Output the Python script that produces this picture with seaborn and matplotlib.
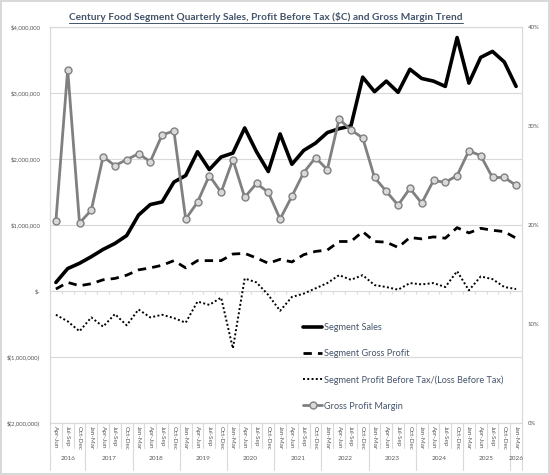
import numpy as np
import pandas as pd
import seaborn as sns
import matplotlib
matplotlib.use('Agg')
import matplotlib.pyplot as plt
from matplotlib.ticker import FuncFormatter, MultipleLocator, PercentFormatter
from matplotlib.lines import Line2D

# quarter / year labels
quarters = ['Apr-Jun', 'Jul-Sep', 'Oct-Dec'] + ['Jan-Mar', 'Apr-Jun', 'Jul-Sep', 'Oct-Dec'] * 9 + ['Jan-Mar']
years = ['2016', '2017', '2018', '2019', '2020', '2021', '2022', '2023', '2024', '2025', '2026']
year_counts = [3, 4, 4, 4, 4, 4, 4, 4, 4, 4, 1]

# values in $ millions
sales_m = [0.13, 0.34, 0.42, 0.52, 0.63, 0.72, 0.84, 1.15, 1.31, 1.35,
           1.65, 1.75, 2.11, 1.84, 2.03, 2.09, 2.47, 2.11, 1.81, 2.38,
           1.92, 2.13, 2.24, 2.40, 2.46, 2.50, 3.24, 3.02, 3.18, 3.01,
           3.36, 3.22, 3.18, 3.10, 3.84, 3.15, 3.54, 3.63, 3.47, 3.10]
gross_profit_m = [0.03, 0.13, 0.08, 0.11, 0.17, 0.19, 0.24, 0.32, 0.35, 0.39,
                  0.46, 0.35, 0.46, 0.46, 0.46, 0.56, 0.57, 0.50, 0.42, 0.48,
                  0.44, 0.55, 0.60, 0.62, 0.75, 0.75, 0.90, 0.75, 0.74, 0.66,
                  0.81, 0.79, 0.82, 0.80, 0.96, 0.88, 0.95, 0.92, 0.90, 0.80]
pbt_m = [-0.36, -0.46, -0.61, -0.40, -0.54, -0.35, -0.52, -0.28, -0.40, -0.36,
         -0.41, -0.48, -0.16, -0.21, -0.10, -0.87, 0.19, 0.13, -0.06, -0.30,
         -0.09, -0.04, 0.04, 0.12, 0.24, 0.17, 0.24, 0.09, 0.06, 0.02,
         0.12, 0.10, 0.12, 0.06, 0.30, 0.01, 0.22, 0.18, 0.06, 0.03]
# gross profit margin, %
margin_pct = [20.4, 35.7, 20.2, 21.5, 26.9, 26.0, 26.6, 27.2, 26.4, 29.1,
              29.5, 20.6, 22.3, 25.0, 23.3, 26.6, 22.8, 24.2, 23.3, 20.6,
              22.9, 25.3, 26.8, 25.6, 30.7, 29.6, 28.8, 24.8, 23.4, 22.0,
              23.7, 22.2, 24.5, 24.3, 25.0, 27.5, 27.0, 24.8, 24.8, 24.0]

df = pd.DataFrame({'pos': np.arange(len(quarters)),
                   'quarter': quarters,
                   'sales': np.array(sales_m) * 1e6,
                   'gross_profit': np.array(gross_profit_m) * 1e6,
                   'pbt': np.array(pbt_m) * 1e6,
                   'margin': np.array(margin_pct) / 100})

sns.set_style('white')
plt.rcParams['font.family'] = ['Lato', 'DejaVu Sans']

label_col = '#595959'
grid_col = '#D9D9D9'
text_col = '#44546A'

fig = plt.figure(figsize=(5.5, 4.75), dpi=100)
fig.patch.set_edgecolor(grid_col)
fig.patch.set_linewidth(1.5)
ax = fig.add_axes([50/550, 1 - 423/475, 472/550, 396/475])
ax2 = ax.twinx()

sns.lineplot(data=df, x='pos', y='sales', ax=ax, color='black', linewidth=2.6,
             label='Segment Sales', legend=False)
sns.lineplot(data=df, x='pos', y='gross_profit', ax=ax, color='black', linewidth=2,
             linestyle=(0, (3, 2.2)), label='Segment Gross Profit', legend=False)
sns.lineplot(data=df, x='pos', y='pbt', ax=ax, color='black', linewidth=1.4,
             linestyle=(0, (1, 1.2)), label='Segment Profit Before Tax/(Loss Before Tax)',
             legend=False)
sns.lineplot(data=df, x='pos', y='margin', ax=ax2, color='#808080', linewidth=2,
             marker='o', markersize=5, markerfacecolor='#D9D9D9',
             markeredgecolor='#808080', markeredgewidth=1,
             label='Gross Profit Margin', legend=False)

# axes scales
ax.set_xlim(-0.5, len(quarters) - 0.5)
ax.set_ylim(-2e6, 4e6)
ax2.set_ylim(0, 0.40)
ax.yaxis.set_major_locator(MultipleLocator(1e6))
ax2.yaxis.set_major_locator(MultipleLocator(0.1))


def acct(v, pos):
    if abs(v) < 1:
        return '$-'
    if v < 0:
        return f'$({abs(v):,.0f})'
    return f'${v:,.0f}'


ax.yaxis.set_major_formatter(FuncFormatter(acct))
ax2.yaxis.set_major_formatter(PercentFormatter(1.0, decimals=0))
ax.tick_params(axis='y', length=0, pad=7, labelsize=4.3, labelcolor=label_col)
ax2.tick_params(axis='y', length=0, pad=4, labelsize=4.3, labelcolor=label_col)

ax.set_xticks(df.pos)
ax.set_xticklabels(quarters, rotation=-90, fontsize=4.6, color=label_col)
ax.tick_params(axis='x', length=0, pad=2)

ax.grid(axis='y', color=grid_col, linewidth=0.8)
ax.set_axisbelow(True)
for a in (ax, ax2):
    a.set_xlabel('')
    a.set_ylabel('')
    for s in a.spines.values():
        s.set_color(grid_col)
        s.set_linewidth(0.8)

# small ticks on the zero line
bounds = np.arange(-0.5, len(quarters), 1)
ax.vlines(bounds, -45000, 0, color=grid_col, linewidth=0.8)

# multi-level category axis separators
xt = ax.get_xaxis_transform()
year_edges = np.concatenate([[0], np.cumsum(year_counts)]) - 0.5
for b in bounds:
    long = b in year_edges
    ax.plot([b, b], [0, -(47 if long else 25) / 396], transform=xt,
            color=grid_col, linewidth=0.8, clip_on=False)
for yr, lo, hi in zip(years, year_edges[:-1], year_edges[1:]):
    ax.text((lo + hi) / 2, -35 / 396, yr, transform=xt, ha='center', va='center',
            fontsize=4.6, color=label_col)

# legend
h1, l1 = ax.get_legend_handles_labels()
h2, l2 = ax2.get_legend_handles_labels()
leg = ax2.legend(h1 + h2, l1 + l2, loc='upper left', bbox_to_anchor=(0.536, 0.252),
                 frameon=False, fontsize=6.6, labelspacing=1.85, handlelength=2.1,
                 handletextpad=0.15, borderpad=0, borderaxespad=0, labelcolor=text_col)

# title with underline
title = fig.text(266/550, 1 - 17/475,
                 'Century Food Segment Quarterly Sales, Profit Before Tax ($C) and Gross Margin Trend',
                 ha='center', va='center', fontsize=7.3, fontweight='bold', color=text_col)
fig.canvas.draw()
bb = title.get_window_extent().transformed(fig.transFigure.inverted())
fig.add_artist(Line2D([bb.x0, bb.x1], [bb.y0 - 0.002, bb.y0 - 0.002],
                      transform=fig.transFigure, color=text_col, linewidth=0.7))

fig.savefig('out.png', dpi=100, edgecolor=fig.get_edgecolor())
